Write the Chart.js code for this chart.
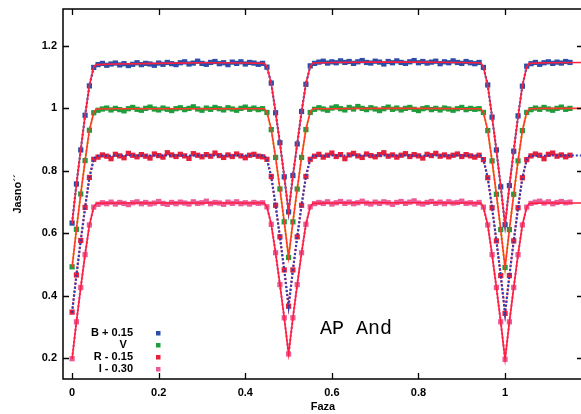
<!DOCTYPE html>
<html>
<head>
<meta charset="utf-8">
<script src="https://cdn.jsdelivr.net/npm/chart.js@4.4.1/dist/chart.umd.min.js"></script>
<style>
  html, body { margin: 0; padding: 0; background: #fff; overflow: hidden; width: 581px; height: 414px; }
  canvas { display: block; }
</style>
</head>
<body>
<canvas id="lightCurve" width="590" height="414"></canvas>
<script>
// Light curve of AP And, four filters (offsets as in the legend)
const phases = [
  0, 0.01, 0.02, 0.03, 0.04, 0.05, 0.06, 0.07, 0.08, 0.09,
  0.1, 0.11, 0.12, 0.13, 0.14, 0.15, 0.16, 0.17, 0.18, 0.19,
  0.2, 0.21, 0.22, 0.23, 0.24, 0.25, 0.26, 0.27, 0.28, 0.29,
  0.3, 0.31, 0.32, 0.33, 0.34, 0.35, 0.36, 0.37, 0.38, 0.39,
  0.4, 0.41, 0.42, 0.43, 0.44, 0.45, 0.46, 0.47, 0.48, 0.49,
  0.5, 0.51, 0.52, 0.53, 0.54, 0.55, 0.56, 0.57, 0.58, 0.59,
  0.6, 0.61, 0.62, 0.63, 0.64, 0.65, 0.66, 0.67, 0.68, 0.69,
  0.7, 0.71, 0.72, 0.73, 0.74, 0.75, 0.76, 0.77, 0.78, 0.79,
  0.8, 0.81, 0.82, 0.83, 0.84, 0.85, 0.86, 0.87, 0.88, 0.89,
  0.9, 0.91, 0.92, 0.93, 0.94, 0.95, 0.96, 0.97, 0.98, 0.99,
  1, 1.01, 1.02, 1.03, 1.04, 1.05, 1.06, 1.07, 1.08, 1.09,
  1.1, 1.11, 1.12, 1.13, 1.14, 1.15
];

const obsB = [
  0.632, 0.757, 0.866, 0.977, 1.071, 1.130,
  1.139, 1.143, 1.137, 1.141, 1.144, 1.138, 1.142, 1.136, 1.140, 1.145,
  1.139, 1.143, 1.141, 1.137, 1.144, 1.140, 1.146, 1.142, 1.139, 1.145,
  1.148, 1.141, 1.144, 1.150, 1.143, 1.140, 1.146, 1.149, 1.142, 1.145,
  1.139, 1.147, 1.143, 1.148, 1.141, 1.146, 1.144, 1.140, 1.143,
  1.131, 1.080, 0.985, 0.889, 0.780, 0.668, 0.784, 0.885, 0.989, 1.076, 1.135,
  1.143, 1.147, 1.150, 1.144, 1.148, 1.145, 1.151, 1.146, 1.149, 1.143,
  1.148, 1.152, 1.146, 1.144, 1.150, 1.147, 1.141, 1.149, 1.145, 1.151,
  1.146, 1.143, 1.148, 1.152, 1.145, 1.149, 1.144, 1.147, 1.150, 1.142,
  1.148, 1.145, 1.151, 1.146, 1.143, 1.149, 1.145, 1.142, 1.146,
  1.130, 1.074, 0.971, 0.866, 0.748, 0.627, 0.752, 0.862, 0.975, 1.070, 1.134,
  1.142, 1.146, 1.140, 1.145, 1.148, 1.143, 1.147, 1.144, 1.149, 1.146
];

const obsV = [
  0.492, 0.612, 0.725, 0.832, 0.929, 0.985,
  0.993, 0.997, 1.000, 0.994, 0.999, 0.995, 0.991, 0.998, 1.002, 0.996,
  0.993, 0.999, 1.003, 0.997, 0.994, 1.000, 0.996, 0.992, 0.998, 1.001,
  0.995, 0.999, 1.004, 0.997, 0.993, 1.000, 0.996, 1.002, 0.998, 0.994,
  1.001, 0.997, 0.993, 0.999, 1.003, 0.996, 1.000, 0.995, 0.998,
  0.986, 0.931, 0.842, 0.741, 0.636, 0.522, 0.636, 0.741, 0.842, 0.931, 0.986,
  0.996, 1.001, 0.997, 0.993, 1.000, 1.004, 0.998, 0.994, 1.002, 0.997,
  1.005, 0.999, 0.995, 1.001, 0.997, 0.992, 0.998, 1.003, 0.996, 1.000,
  0.994, 0.999, 1.002, 0.996, 0.992, 0.998, 1.001, 0.995, 0.999, 0.994,
  1.000, 0.997, 0.993, 0.998, 1.002, 0.995, 0.999, 0.996, 0.998,
  0.986, 0.928, 0.831, 0.724, 0.611, 0.490, 0.611, 0.724, 0.831, 0.928, 0.986,
  0.995, 1.000, 0.996, 1.002, 0.997, 0.993, 0.999, 1.003, 0.996, 0.999
];

const obsR = [
  0.347, 0.466, 0.576, 0.682, 0.778, 0.836,
  0.843, 0.850, 0.846, 0.838, 0.852, 0.847, 0.841, 0.855, 0.849, 0.844,
  0.851, 0.846, 0.840, 0.853, 0.848, 0.843, 0.857, 0.850, 0.845, 0.852,
  0.847, 0.839, 0.854, 0.849, 0.844, 0.851, 0.846, 0.856, 0.848, 0.842,
  0.850, 0.845, 0.853, 0.847, 0.841, 0.849, 0.852, 0.846, 0.844,
  0.836, 0.781, 0.689, 0.588, 0.482, 0.366, 0.482, 0.588, 0.689, 0.781, 0.836,
  0.846, 0.852, 0.843, 0.849, 0.856, 0.845, 0.851, 0.838, 0.850, 0.855,
  0.847, 0.842, 0.853, 0.848, 0.844, 0.851, 0.857, 0.846, 0.850, 0.843,
  0.849, 0.854, 0.845, 0.851, 0.847, 0.840, 0.852, 0.848, 0.855, 0.846,
  0.850, 0.844, 0.849, 0.853, 0.845, 0.851, 0.847, 0.843, 0.849,
  0.835, 0.777, 0.681, 0.575, 0.464, 0.343, 0.464, 0.575, 0.681, 0.777, 0.835,
  0.847, 0.853, 0.849, 0.838, 0.852, 0.856, 0.846, 0.850, 0.844, 0.849
];

const obsI = [
  0.198, 0.316, 0.426, 0.531, 0.626, 0.683,
  0.692, 0.697, 0.694, 0.699, 0.693, 0.698, 0.695, 0.691, 0.697, 0.700,
  0.694, 0.698, 0.693, 0.696, 0.701, 0.695, 0.692, 0.698, 0.694, 0.699,
  0.696, 0.693, 0.700, 0.695, 0.697, 0.702, 0.694, 0.698, 0.696, 0.692,
  0.699, 0.695, 0.700, 0.694, 0.697, 0.693, 0.698, 0.695, 0.697,
  0.684, 0.628, 0.537, 0.435, 0.329, 0.213, 0.329, 0.435, 0.537, 0.628, 0.684,
  0.694, 0.698, 0.695, 0.700, 0.693, 0.697, 0.701, 0.695, 0.699, 0.694,
  0.697, 0.702, 0.696, 0.693, 0.699, 0.695, 0.700, 0.697, 0.692, 0.698,
  0.701, 0.695, 0.699, 0.703, 0.696, 0.693, 0.698, 0.701, 0.695, 0.699,
  0.694, 0.700, 0.696, 0.698, 0.702, 0.695, 0.697, 0.693, 0.698,
  0.683, 0.626, 0.531, 0.426, 0.316, 0.196, 0.316, 0.426, 0.531, 0.626, 0.683,
  0.695, 0.699, 0.702, 0.696, 0.700, 0.694, 0.698, 0.701, 0.697, 0.699
];

// fitted model curves
const modelPhase = [
  0, 0.01, 0.02, 0.03, 0.04, 0.05, 0.056, 0.1, 0.2, 0.3, 0.4, 0.444,
  0.45, 0.46, 0.47, 0.48, 0.49, 0.5, 0.51, 0.52, 0.53, 0.54, 0.55, 0.556,
  0.6, 0.7, 0.8, 0.9, 0.944,
  0.95, 0.96, 0.97, 0.98, 0.99, 1, 1.01, 1.02, 1.03, 1.04, 1.05, 1.056,
  1.1, 1.19
];
const modelB = [
  0.63, 0.755, 0.868, 0.975, 1.073, 1.132, 1.139, 1.141, 1.143, 1.145, 1.144, 1.143,
  1.133, 1.078, 0.987, 0.887, 0.782, 0.666, 0.782, 0.887, 0.987, 1.078, 1.133, 1.144,
  1.146, 1.147, 1.147, 1.146, 1.144,
  1.132, 1.072, 0.973, 0.864, 0.75, 0.625, 0.75, 0.864, 0.973, 1.072, 1.132, 1.143,
  1.145, 1.146
];
const modelV = [
  0.49, 0.612, 0.725, 0.832, 0.929, 0.986, 0.997, 0.998, 0.998, 0.998, 0.998, 0.998,
  0.987, 0.932, 0.842, 0.741, 0.636, 0.522, 0.636, 0.741, 0.842, 0.932, 0.987, 0.998,
  0.998, 0.999, 0.999, 0.998, 0.998,
  0.986, 0.928, 0.831, 0.724, 0.611, 0.49, 0.611, 0.724, 0.831, 0.928, 0.986, 0.998,
  0.999, 0.999
];
const modelR = [
  0.345, 0.465, 0.576, 0.682, 0.778, 0.836, 0.847, 0.848, 0.848, 0.848, 0.848, 0.848,
  0.836, 0.781, 0.689, 0.588, 0.482, 0.366, 0.482, 0.588, 0.689, 0.781, 0.836, 0.847,
  0.848, 0.848, 0.848, 0.848, 0.848,
  0.835, 0.777, 0.681, 0.575, 0.464, 0.343, 0.464, 0.575, 0.681, 0.777, 0.835, 0.847,
  0.848, 0.848
];
const modelI = [
  0.197, 0.316, 0.426, 0.531, 0.626, 0.683, 0.695, 0.696, 0.696, 0.696, 0.696, 0.696,
  0.684, 0.628, 0.537, 0.435, 0.329, 0.213, 0.329, 0.435, 0.537, 0.628, 0.684, 0.695,
  0.696, 0.697, 0.697, 0.696, 0.696,
  0.683, 0.626, 0.531, 0.426, 0.316, 0.196, 0.316, 0.426, 0.531, 0.626, 0.683, 0.695,
  0.696, 0.696
];

const xTicks = [0, 0.2, 0.4, 0.6, 0.8, 1];
const yTicks = [0.2, 0.4, 0.6, 0.8, 1, 1.2];
const bandLabels = ['B + 0.15', 'V  ', 'R - 0.15', 'I - 0.30'];
const bandColors = ['#2b4ea8', '#1f9d3d', '#e61f3a', '#ea5a98'];
const starName = 'AP And';

function pairs(xs, ys) {
  return xs.map((x, i) => ({ x: x, y: ys[i] }));
}

// observed points, with a dotted trace so eclipses look dense
function obsSet(label, ys, color, traceColor) {
  return {
    label: label,
    data: pairs(phases, ys),
    showLine: true,
    borderColor: traceColor,
    borderWidth: 2.2,
    borderDash: [2, 2],
    pointStyle: 'rect',
    pointRadius: 3.7,
    pointBorderWidth: 0,
    pointBackgroundColor: color,
    order: 2
  };
}

function modelSet(ys, color, dash) {
  return {
    label: 'model',
    data: pairs(modelPhase, ys),
    showLine: true,
    borderColor: color,
    borderWidth: dash ? 2 : 1.6,
    borderDash: dash || [],
    pointRadius: 0,
    order: 1
  };
}

const datasets = [
  obsSet(bandLabels[0], obsB, bandColors[0], '#2b4ea8'),
  obsSet(bandLabels[1], obsV, bandColors[1], '#d8c020'),
  obsSet(bandLabels[2], obsR, bandColors[2], '#e61f3a'),
  obsSet(bandLabels[3], obsI, bandColors[3], '#ea5a98'),
  modelSet(modelB, '#ff1f40'),
  modelSet(modelV, '#ff3a28'),
  modelSet(modelR, '#2a3fb8', [2, 2]),
  modelSet(modelI, '#ff1f40')
];

// gnuplot style frame: inward ticks on all four sides, legend and star name
const framePlugin = {
  id: 'frame',
  afterDraw(chart) {
    const { ctx, chartArea: a, scales: { x, y } } = chart;
    ctx.save();
    ctx.strokeStyle = '#000';
    ctx.lineWidth = 1.5;
    ctx.strokeRect(a.left, a.top, a.right - a.left, a.bottom - a.top);
    ctx.lineWidth = 1.3;
    ctx.beginPath();
    xTicks.forEach(v => {
      const px = Math.round(x.getPixelForValue(v)) + 0.5;
      ctx.moveTo(px, a.bottom); ctx.lineTo(px, a.bottom - 6);
      ctx.moveTo(px, a.top); ctx.lineTo(px, a.top + 6);
    });
    yTicks.forEach(v => {
      const py = Math.round(y.getPixelForValue(v)) + 0.5;
      ctx.moveTo(a.left, py); ctx.lineTo(a.left + 6, py);
      ctx.moveTo(a.right, py); ctx.lineTo(a.right - 6, py);
    });
    ctx.stroke();

    ctx.font = 'bold 11px "Liberation Sans"';
    ctx.textAlign = 'right';
    ctx.textBaseline = 'middle';
    bandLabels.forEach((t, i) => {
      const ty = 333 + i * 12;
      ctx.fillStyle = '#000';
      ctx.fillText(t, 133, ty);
      ctx.fillStyle = bandColors[i];
      ctx.fillRect(156, ty - 2, 4.5, 4.5);
    });

    ctx.fillStyle = '#000';
    ctx.font = '20px "Liberation Mono"';
    ctx.textAlign = 'left';
    ctx.textBaseline = 'alphabetic';
    ctx.fillText(starName, 320, 334);
    ctx.restore();
  }
};

const tickFont = { family: 'Liberation Sans', size: 11, weight: 'bold' };

new Chart(document.getElementById('lightCurve').getContext('2d'), {
  type: 'scatter',
  data: { datasets: datasets },
  options: {
    responsive: false,
    animation: false,
    layout: { padding: { top: 9, right: 7, left: 0, bottom: 0 } },
    plugins: {
      legend: { display: false },
      tooltip: { enabled: false }
    },
    scales: {
      x: {
        type: 'linear',
        min: -0.021,
        max: 1.18,
        afterBuildTicks: s => { s.ticks = xTicks.map(v => ({ value: v })); },
        afterFit: s => { s.height = 35; s.paddingLeft = 0; s.paddingRight = 0; },
        grid: { display: false, drawTicks: false },
        border: { display: false },
        ticks: { color: '#000', font: tickFont, padding: 7, callback: v => String(v) },
        title: { display: true, text: 'Faza', color: '#000', font: tickFont, padding: { top: 0, bottom: 0 } }
      },
      y: {
        type: 'linear',
        min: 0.133,
        max: 1.317,
        afterBuildTicks: s => { s.ticks = yTicks.map(v => ({ value: v })); },
        afterFit: s => { s.width = 63; s.paddingTop = 0; s.paddingBottom = 0; },
        grid: { display: false, drawTicks: false },
        border: { display: false },
        ticks: { color: '#000', font: tickFont, padding: 6, callback: v => String(v) },
        title: { display: true, text: 'Jasno´´', color: '#000', font: tickFont, padding: { top: 11, bottom: 0 } }
      }
    }
  },
  plugins: [framePlugin]
});
</script>
</body>
</html>
